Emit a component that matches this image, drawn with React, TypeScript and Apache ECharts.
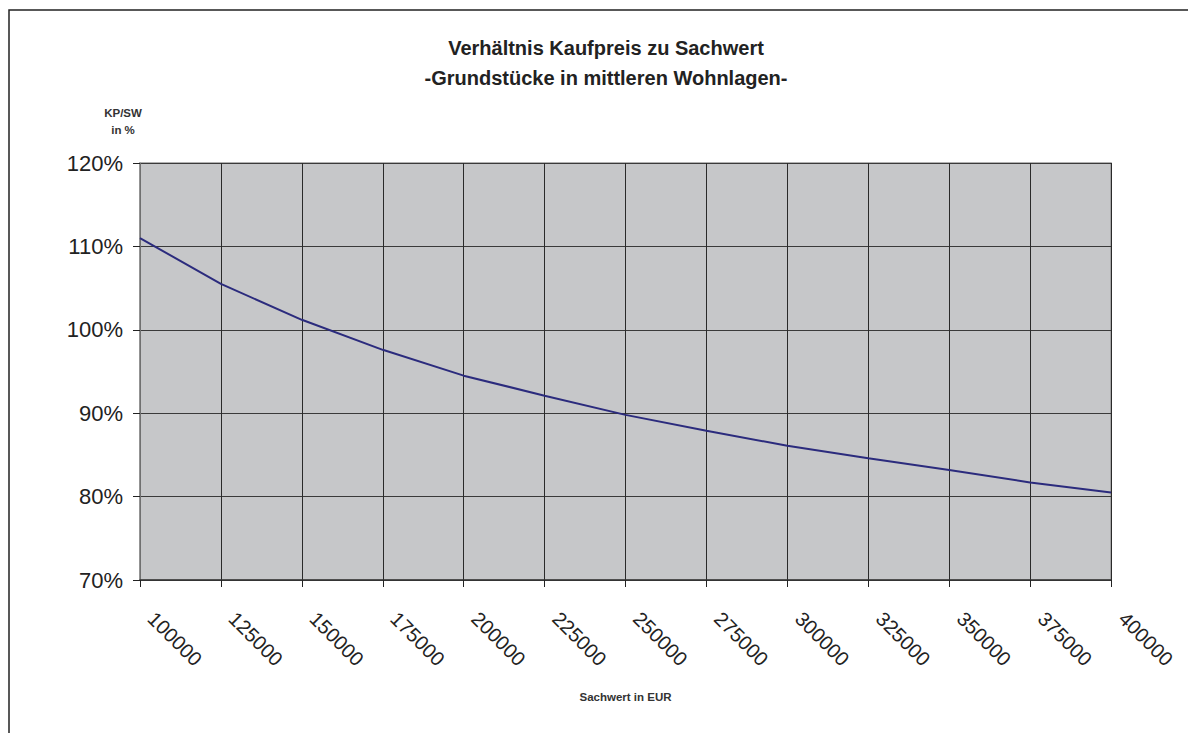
import React, { useEffect, useRef } from "react";
import * as echarts from "echarts";

const categories = [
  "100000", "125000", "150000", "175000", "200000", "225000", "250000",
  "275000", "300000", "325000", "350000", "375000", "400000",
];
const ratioValues = [111.0, 105.5, 101.2, 97.6, 94.5, 92.1, 89.8, 87.9, 86.1, 84.6, 83.2, 81.7, 80.5];
const titleLines = ["Verhältnis Kaufpreis zu Sachwert", "-Grundstücke in mittleren Wohnlagen-"];
const yAxisName = "KP/SW\nin %";
const xAxisName = "Sachwert in EUR";

export default function App() {
  const ref = useRef<HTMLDivElement>(null);
  useEffect(() => {
    if (!ref.current) return;
    const chart = echarts.init(ref.current, undefined, { renderer: "svg" });
    chart.setOption({
      animation: false,
      backgroundColor: "#ffffff",
      textStyle: { fontFamily: "Arial, 'Liberation Sans', sans-serif" },
      title: {
        text: titleLines.join("\n"),
        left: 601,
        top: 28,
        textAlign: "center",
        textStyle: {
          fontSize: 20,
          fontWeight: "bold",
          color: "#222",
          lineHeight: 30,
          fontFamily: "Arial, 'Liberation Sans', sans-serif",
        },
      },
      graphic: [
        {
          type: "rect",
          shape: { x: 9, y: 10, width: 1400, height: 1000 },
          style: { fill: "none", stroke: "#222", lineWidth: 1.5 },
          silent: true,
        },
      ],
      grid: {
        left: 140,
        top: 163,
        right: 77,
        bottom: 153,
        show: true,
        backgroundColor: "#c6c7c9",
        borderColor: "#999",
        borderWidth: 1.5,
      },
      xAxis: {
        type: "category",
        data: categories,
        boundaryGap: false,
        name: xAxisName,
        nameLocation: "middle",
        nameGap: 111,
        nameTextStyle: { fontSize: 11.5, fontWeight: "bold", color: "#333" },
        axisLine: { lineStyle: { color: "#333", width: 1.5 } },
        axisTick: { show: true, length: 7, alignWithLabel: true, lineStyle: { color: "#222" } },
        axisLabel: {
          interval: 0,
          rotate: -45,
          margin: 24,
          padding: [0, 0, 0, 16],
          fontSize: 20,
          color: "#222",
        },
        splitLine: { show: true, interval: 0, lineStyle: { color: "#2a2a2a", width: 1 } },
      },
      yAxis: {
        type: "value",
        min: 70,
        max: 120,
        interval: 10,
        name: yAxisName,
        nameLocation: "end",
        nameGap: 25,
        nameTextStyle: {
          fontSize: 11.5,
          fontWeight: "bold",
          color: "#333",
          lineHeight: 16.5,
          align: "center",
          padding: [0, 34, 0, 0],
        },
        axisLine: { show: true, lineStyle: { color: "#888", width: 1.5 } },
        axisTick: { show: true, length: 7, lineStyle: { color: "#222" } },
        axisLabel: { formatter: "{value}%", fontSize: 22, color: "#222", margin: 17 },
        splitLine: { show: true, lineStyle: { color: "#3a3a3a", width: 1 } },
      },
      series: [
        {
          type: "line",
          data: ratioValues,
          showSymbol: false,
          symbol: "none",
          lineStyle: { color: "#2b2b7d", width: 2 },
        },
      ],
    });
    return () => chart.dispose();
  }, []);
  return (
    <div
      ref={ref}
      style={{ position: "fixed", left: 0, top: 0, width: 1188, height: 733 }}
    />
  );
}
